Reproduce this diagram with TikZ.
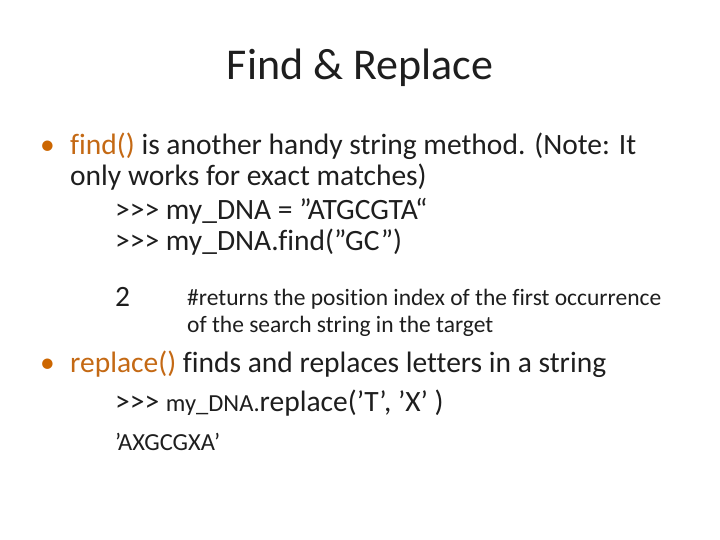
\documentclass[tikz,border=0pt]{standalone}
\usepackage{fontspec}
\setmainfont[Ligatures=NoCommon]{Carlito}
\usetikzlibrary{positioning}
\definecolor{bulletorange}{RGB}{204,102,0}
\definecolor{findorange}{RGB}{196,105,20}
\definecolor{bodytext}{RGB}{30,30,30}
\newcommand{\dq}{\symbol{34}}
\newcommand{\sq}{\symbol{39}}

\begin{document}
\begin{tikzpicture}[x=1pt,y=-1pt,
                    line/.style={anchor=base west,inner sep=0pt,text=bodytext,font={\fontsize{29.5}{34}\selectfont}},
                    small/.style={line,font={\fontsize{24.5}{28}\selectfont}}]
  \useasboundingbox (0,0) rectangle (720,540);
  \node[anchor=base,inner sep=0pt,text=bodytext,font={\fontsize{44}{48}\selectfont}] (title) at (360,80) {Find \& Replace};
  % first bullet
  \node[line,text=bulletorange] (dot1) at (40,155) {•};
  \node[line] (find1) at (70,155) {{\color{findorange}find()} is another handy string method. (Note: It};
  \node[line] (find2) at (70,186) {only works for exact matches)};
  \node[line] (code1) at (115,219) {>{}>{}> my\_DNA = \dq ATGCGTA“};
  \node[line] (code2) at (115,251) {>{}>{}> my\_DNA.find(\dq GC\dq)};
  \node[line] (res) at (115,306) {2};
  \node[small,font={\fontsize{23.5}{27}\selectfont}] (note1) at (187,305) {\#returns the position index of the first occurrence};
  \node[small,font={\fontsize{23.5}{27}\selectfont}] (note2) at (187,332) {of the search string in the target};
  % second bullet
  \node[line,text=bulletorange] (dot2) at (40,372) {•};
  \node[line] (repl1) at (70,372) {{\color{findorange}replace()} finds and replaces letters in a string};
  \node[line] (code3) at (115,411) {>{}>{}> {\fontsize{24.5}{28}\selectfont my\_DNA.}replace(\sq T\sq, \sq X\sq\ )};
  \node[small] (res2) at (115,450) {\sq AXGCGXA\sq};
\end{tikzpicture}
\end{document}
